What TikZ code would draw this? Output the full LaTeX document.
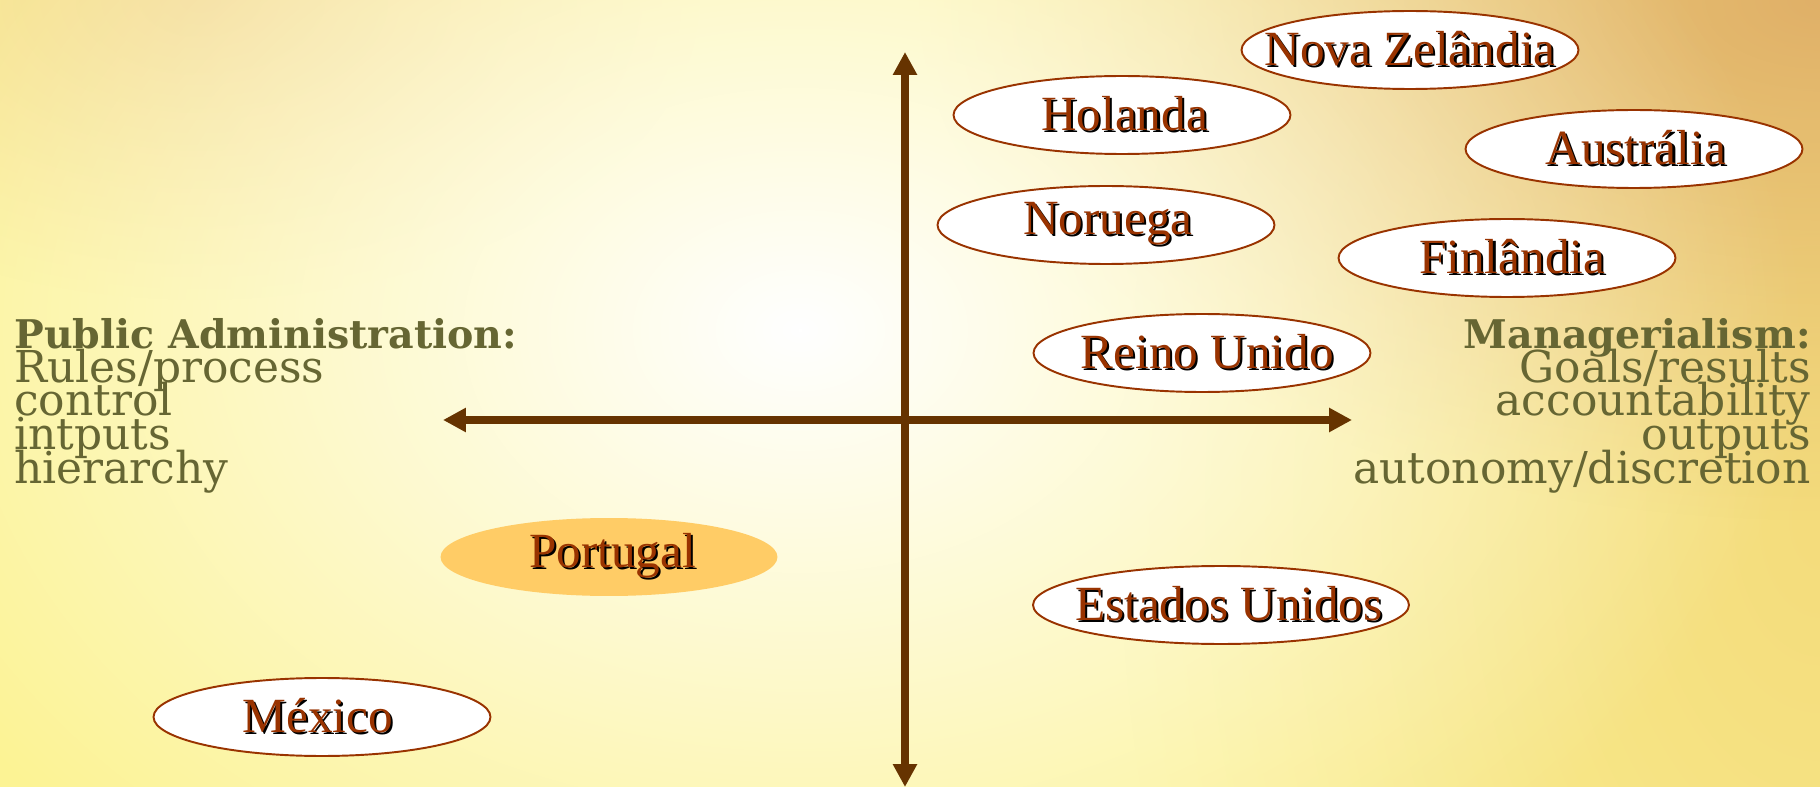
\documentclass[tikz,border=0pt]{standalone}
\usepackage{fontspec}
\newfontfamily\cty{Liberation Serif}
\newfontfamily\sidefont{DejaVu Serif}
\usetikzlibrary{shapes.geometric,arrows.meta,fadings}
\definecolor{bgY}{RGB}{252,243,148}
\definecolor{bgO}{RGB}{224,176,104}
\definecolor{bgT}{RGB}{244,218,140}
\definecolor{bgR}{RGB}{244,220,124}
\definecolor{axisC}{RGB}{102,51,0}
\definecolor{txtC}{RGB}{153,51,0}
\definecolor{oliveC}{RGB}{102,102,51}
\definecolor{portF}{RGB}{255,204,102}
\tikzfading[name=softedge, inner color=transparent!0, outer color=transparent!100]
\newcommand\shd[2][0pt]{\makebox[0pt]{\hspace{#1}\makebox[0pt][l]{\hspace{1.2pt}\raisebox{-1.2pt}{\color{black}#2}}{\color{txtC}#2}}}
\begin{document}
\begin{tikzpicture}[x=0.02cm,y=-0.02cm,
  country/.style={ellipse, draw=txtC, line width=1.1pt, fill=white,
    minimum width=6.74cm, minimum height=1.56cm, inner sep=0pt,
    font=\cty\fontsize{28}{30}\selectfont},
  axis/.style={draw=axisC, line width=4.5pt,
    {Triangle[width=0.46cm,length=0.46cm]}-{Triangle[width=0.46cm,length=0.46cm]}},
  side/.style={text=oliveC, inner sep=0pt, font=\sidefont\fontsize{25}{30}\selectfont},
  sidehead/.style={side, font=\sidefont\bfseries\fontsize{22.5}{30}\selectfont}]
\useasboundingbox (0,0) rectangle (1820,787);
\begin{scope}
\clip (0,0) rectangle (1820,787);
\fill[bgY] (0,0) rectangle (1820,787);
\fill[bgT, path fading=softedge] (200,0) ellipse (500 and 300);
\fill[bgR, path fading=softedge] (1820,520) ellipse (700 and 1100);
\fill[bgO, path fading=softedge] (1820,0) ellipse (900 and 520);
\fill[white, path fading=softedge] (800,330) ellipse (1000 and 720);
\end{scope}

\coordinate (top) at (905,52);
\coordinate (bot) at (905,787);
\coordinate (lft) at (443,420);
\coordinate (rgt) at (1352,420);
\draw[axis] (bot) -- (top);
\draw[axis] (lft) -- (rgt);

\node[country] (nz) at (1410,50) {\shd{Nova Zelândia}};
\node[country] (hol) at (1122,115) {\shd[3pt]{Holanda}};
\node[country] (aus) at (1634,149) {\shd[2pt]{Austrália}};
\node[country] (nor) at (1106,225) {\shd[2pt]{Noruega}};
\node[country] (fin) at (1507,258) {\shd[6pt]{Finlândia}};
\node[country] (uk) at (1202,353) {\shd[6pt]{Reino Unido}};
\node[country, draw=none, fill=portF] (pt) at (609,557) {\shd[4pt]{Portugal}};
\node[country, minimum width=7.52cm] (us) at (1221,605) {\shd[9pt]{Estados Unidos}};
\node[country] (mx) at (322,717) {\shd[-5pt]{México}};

\node[sidehead, anchor=base west] (pa) at (14,349) {Public Administration:};
\node[side, anchor=base west] (pa1) at (14,382.5) {Rules/process};
\node[side, anchor=base west] (pa2) at (14,416) {control};
\node[side, anchor=base west] (pa3) at (14,449.5) {intputs};
\node[side, anchor=base west] (pa4) at (14,483) {hierarchy};

\node[sidehead, anchor=base east] (mg) at (1811,349) {Managerialism:};
\node[side, anchor=base east] (mg1) at (1811,382.5) {Goals/results};
\node[side, anchor=base east] (mg2) at (1811,416) {accountability};
\node[side, anchor=base east] (mg3) at (1811,449.5) {outputs};
\node[side, anchor=base east] (mg4) at (1811,483) {autonomy/discretion};
\end{tikzpicture}
\end{document}
